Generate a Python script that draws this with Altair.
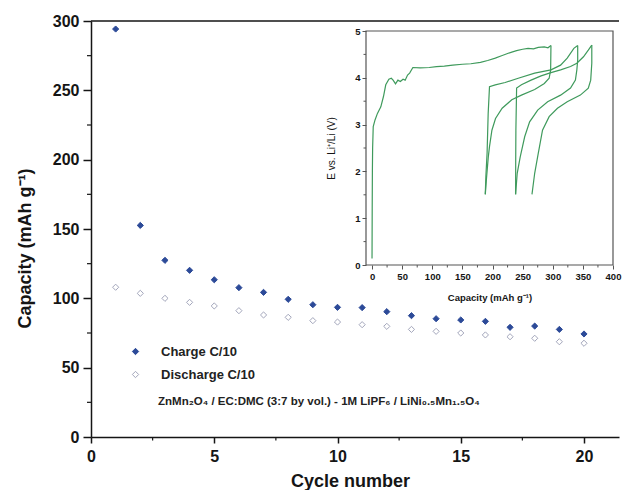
import altair as alt
import pandas as pd

# ---------------- data ----------------
cycles = list(range(1, 21))
charge = [294.2, 152.6, 127.4, 120.2, 113.4, 107.7, 104.3, 99.3, 95.4, 93.5,
          93.3, 90.4, 87.5, 85.3, 84.4, 83.4, 79.1, 80.0, 77.6, 74.3]
discharge = [108.0, 103.6, 100.0, 97.1, 94.5, 91.1, 88.0, 86.3, 83.9, 82.9,
             81.0, 79.8, 77.6, 76.2, 75.0, 73.6, 72.3, 71.2, 68.7, 67.6]
series_names = ["Charge C/10", "Discharge C/10"]

main_x_ticks = [0, 5, 10, 15, 20]
main_x_minor = [2.5, 7.5, 12.5, 17.5]
main_y_ticks = [0, 50, 100, 150, 200, 250, 300]
main_y_minor = [25, 75, 125, 175, 225, 275]

note_text = "ZnMn\u2082O\u2084 / EC:DMC (3:7 by vol.) - 1M LiPF\u2086 / LiNi\u2080.\u2085Mn\u2081.\u2085O\u2084"
note_pos = [2.72, 25]

# inset: voltage profiles (capacity mAh/g, voltage V)
ch1_cap = [0, 0.3, 0.6, 1, 2, 5, 9, 14.6, 19, 22.8, 28, 32, 35, 39, 43, 47, 51.5, 55, 59, 62.4, 67.8,
           79.8, 95, 107, 120, 134, 150, 164, 180, 192, 204.6, 215, 225, 232, 240, 250, 259, 268, 276, 286, 292, 297]
ch1_v = [0.14, 1.2, 2.0, 2.5, 2.96, 3.10, 3.24, 3.38, 3.60, 3.85, 3.97, 3.99, 3.95, 3.87, 3.95, 3.92, 3.97, 3.95, 4.06, 4.10, 4.22,
         4.21, 4.22, 4.24, 4.25, 4.27, 4.29, 4.30, 4.33, 4.37, 4.42, 4.47, 4.52, 4.55, 4.58, 4.61, 4.63, 4.62, 4.65, 4.66, 4.64, 4.69]
dis1_cap = [297, 296.5, 294, 286, 270, 248, 232, 216, 205, 199, 195, 193, 190, 188]
dis1_v = [4.69, 4.17, 3.99, 3.88, 3.75, 3.63, 3.53, 3.35, 3.13, 2.88, 2.53, 2.31, 1.85, 1.51]
ch2_cap = [188, 189, 191, 192.8, 195, 204.6, 221, 242.7, 270, 297, 313, 324, 335, 341.4]
ch2_v = [1.51, 1.9, 2.39, 3.24, 3.81, 3.85, 3.90, 3.99, 4.10, 4.17, 4.27, 4.42, 4.63, 4.69]
dis2_cap = [341.4, 341.4, 340, 337.6, 329.5, 313, 291.5, 275, 261.6, 253.4, 246, 241, 238.3]
dis2_v = [4.69, 4.38, 4.17, 3.95, 3.78, 3.63, 3.49, 3.31, 3.06, 2.74, 2.31, 1.96, 1.51]
ch3_cap = [238.3, 238.5, 238.8, 240, 248, 264, 280.6, 297, 313, 329.5, 340, 351, 359, 364.8]
ch3_v = [1.51, 2.2, 2.88, 3.78, 3.85, 3.95, 4.04, 4.11, 4.17, 4.24, 4.31, 4.45, 4.59, 4.70]
dis3_cap = [364.8, 364.8, 363, 359, 345.8, 324, 307.8, 294, 283, 278, 276, 270, 265.5]
dis3_v = [4.70, 4.31, 3.95, 3.78, 3.63, 3.49, 3.35, 3.17, 2.88, 2.53, 2.39, 1.96, 1.51]

inset_x_ticks = [0, 50, 100, 150, 200, 250, 300, 350, 400]
inset_x_minor = [25, 75, 125, 175, 225, 275, 325, 375]
inset_y_ticks = [0, 1, 2, 3, 4, 5]
inset_y_minor = [0.5, 1.5, 2.5, 3.5, 4.5]
inset_frame_x = [-10, 400]      # frame edges (capacity)
inset_frame_y = [0, 5]          # frame edges (voltage)

# ---------------- layout ----------------
W, H = 528, 416
FONT = "Liberation Sans"
NAVY = "#2c4a98"
GREY = "#a3a6bb"
GREEN = "#3f9a5c"
AX = "#151515"
IAX = "#555555"

IX0, IX1 = 275, 522       # inset frame x pixels inside plot
IY0, IY1 = 244, 10        # inset frame y pixels (bottom, top)
# small margin beyond the frame so the frame edges sit inside the scale range
PX_X = (IX1 - IX0) / (inset_frame_x[1] - inset_frame_x[0])
PX_Y = (IY0 - IY1) / (inset_frame_y[1] - inset_frame_y[0])
X_EXT, Y_EXT = 3, 0.05

# ---------------- main chart ----------------
df_main = pd.DataFrame({
    "cycle": cycles + cycles,
    "cap": charge + discharge,
    "series": [series_names[0]] * len(cycles) + [series_names[1]] * len(cycles),
})


def xs():
    return alt.Scale(domain=[0, W / 24.65], nice=False, zero=False)


def ys():
    return alt.Scale(domain=[0, 300], nice=False, zero=False)


def ixs():
    return alt.Scale(domain=[inset_frame_x[0], inset_frame_x[1] + X_EXT],
                     range=[IX0, IX1 + X_EXT * PX_X], nice=False, zero=False)


def iys():
    return alt.Scale(domain=[inset_frame_y[0], inset_frame_y[1] + Y_EXT],
                     range=[IY0, IY1 - Y_EXT * PX_Y], nice=False, zero=False)


x_axis = alt.Axis(values=main_x_ticks, orient="bottom", title="Cycle number", titleFontSize=18,
                  titleFontWeight="bold", titleX=259, titleY=44, titleBaseline="middle",
                  labelFontSize=16, labelFontWeight="bold", tickSize=6, labelPadding=5,
                  domainWidth=1.5, tickWidth=1.5, grid=False, labelFlush=False)
y_axis = alt.Axis(values=main_y_ticks, orient="left", title="Capacity (mAh g\u207b\u00b9)", titleFontSize=18,
                  titleFontWeight="bold", titleX=-66, titleY=227, titleAngle=270, titleAlign="center",
                  titleBaseline="middle", labelFontSize=16, labelFontWeight="bold", tickSize=8,
                  labelPadding=4, domainWidth=1.5, tickWidth=1.5, grid=False)

leg = alt.Legend(orient="none", legendX=38, legendY=324, title=None, labelFont=FONT,
                 labelFontSize=13, labelFontWeight="bold", labelColor="#222", labelOffset=19,
                 rowPadding=9, symbolStrokeWidth=1, symbolSize=40, padding=0)

points = alt.Chart(df_main).mark_point(shape="diamond", size=38, strokeWidth=1, opacity=1).encode(
    x=alt.X("cycle:Q", scale=xs(), axis=x_axis),
    y=alt.Y("cap:Q", scale=ys(), axis=y_axis),
    stroke=alt.Stroke("series:N", scale=alt.Scale(domain=series_names, range=[NAVY, GREY]), legend=leg),
    fill=alt.Fill("series:N", scale=alt.Scale(domain=series_names, range=[NAVY, "white"]), legend=leg),
)

x_minor = alt.Chart(pd.DataFrame({"cycle": main_x_minor})).mark_rule(color=AX, strokeWidth=1.2).encode(
    x=alt.X("cycle:Q", scale=xs(), axis=None), y=alt.value(H), y2=alt.value(H + 3.5))
y_minor = alt.Chart(pd.DataFrame({"cap": main_y_minor})).mark_rule(color=AX, strokeWidth=1.2).encode(
    y=alt.Y("cap:Q", scale=ys(), axis=None), x=alt.value(-4), x2=alt.value(0))
top_line = alt.Chart(pd.DataFrame({"cap": [300]})).mark_rule(color=AX, strokeWidth=1.5).encode(
    y=alt.Y("cap:Q", scale=ys(), axis=None), x=alt.value(0), x2=alt.value(W))
note = alt.Chart(pd.DataFrame({"cycle": [note_pos[0]], "cap": [note_pos[1]], "t": [note_text]})).mark_text(
    align="left", baseline="middle", font=FONT, fontSize=11.5, fontWeight="bold", color="#222").encode(
    x=alt.X("cycle:Q", scale=xs(), axis=None), y=alt.Y("cap:Q", scale=ys(), axis=None), text="t:N")

# ---------------- inset ----------------
segs = [(ch1_cap, ch1_v), (dis1_cap, dis1_v), (ch2_cap, ch2_v), (dis2_cap, dis2_v),
        (ch3_cap, ch3_v), (dis3_cap, dis3_v)]
rows = []
for si, (cs, vs) in enumerate(segs):
    for oi, (c, v) in enumerate(zip(cs, vs)):
        rows.append({"seg": str(si), "kind": "profile", "ord": oi, "icap": c, "ivolt": v})
# closed frame of the inset
frame_cap = [inset_frame_x[0], inset_frame_x[0], inset_frame_x[1], inset_frame_x[1], inset_frame_x[0]]
frame_v = [inset_frame_y[0], inset_frame_y[1], inset_frame_y[1], inset_frame_y[0], inset_frame_y[0]]
for oi, (c, v) in enumerate(zip(frame_cap, frame_v)):
    rows.append({"seg": "frame", "kind": "frame", "ord": oi, "icap": c, "ivolt": v})
df_inset = pd.DataFrame(rows)

ix_axis = alt.Axis(values=inset_x_ticks, orient="bottom", offset=-(H - IY0), title="Capacity (mAh g\u207b\u00b9)",
                   titleFontSize=9.5, titleFontWeight="bold", titleX=(IX0 + IX1) / 2, titleY=32,
                   titleBaseline="middle", labelFontSize=9.5, labelFontWeight="bold", tickSize=4,
                   labelPadding=2, domain=False, tickWidth=1, grid=False, labelFlush=False,
                   tickColor=IAX)
iy_axis = alt.Axis(values=inset_y_ticks, orient="left", offset=-IX0, title="E vs. Li\u207a/Li (V)",
                   titleFontSize=10, titleFontWeight="normal", titleX=-35, titleY=(IY0 + IY1) / 2,
                   titleAngle=270, titleAlign="center", titleBaseline="middle",
                   labelFontSize=9.5, labelFontWeight="bold", tickSize=4, labelPadding=2,
                   domain=False, tickWidth=1, grid=False, tickColor=IAX)

curves = alt.Chart(df_inset).mark_line(strokeWidth=1.2).encode(
    x=alt.X("icap:Q", scale=ixs(), axis=ix_axis), y=alt.Y("ivolt:Q", scale=iys(), axis=iy_axis),
    color=alt.Color("kind:N", scale=alt.Scale(domain=["profile", "frame"], range=[GREEN, IAX]), legend=None),
    detail="seg:N", order="ord:Q")
ix_minor = alt.Chart(pd.DataFrame({"icap": inset_x_minor})).mark_rule(color=IAX, strokeWidth=1).encode(
    x=alt.X("icap:Q", scale=ixs(), axis=None), y=alt.value(IY0), y2=alt.value(IY0 + 2.5))
iy_minor = alt.Chart(pd.DataFrame({"ivolt": inset_y_minor})).mark_rule(color=IAX, strokeWidth=1).encode(
    y=alt.Y("ivolt:Q", scale=iys(), axis=None), x=alt.value(IX0 - 2.5), x2=alt.value(IX0))

chart = alt.layer(
    points, x_minor, y_minor, top_line, note, curves, ix_minor, iy_minor
).resolve_scale(
    x="independent", y="independent"
).resolve_axis(
    x="independent", y="independent"
).properties(
    width=W, height=H,
    autosize=alt.AutoSizeParams(type="none"),
    padding={"left": 83, "top": 13, "right": 3, "bottom": 53},
).configure_view(stroke=None).configure_axis(
    labelFont=FONT, titleFont=FONT, labelColor=AX, titleColor=AX, domainColor=AX, tickColor=AX
).configure_text(font=FONT)

chart.save("out.html", embed_options={"renderer": "svg", "actions": False})
